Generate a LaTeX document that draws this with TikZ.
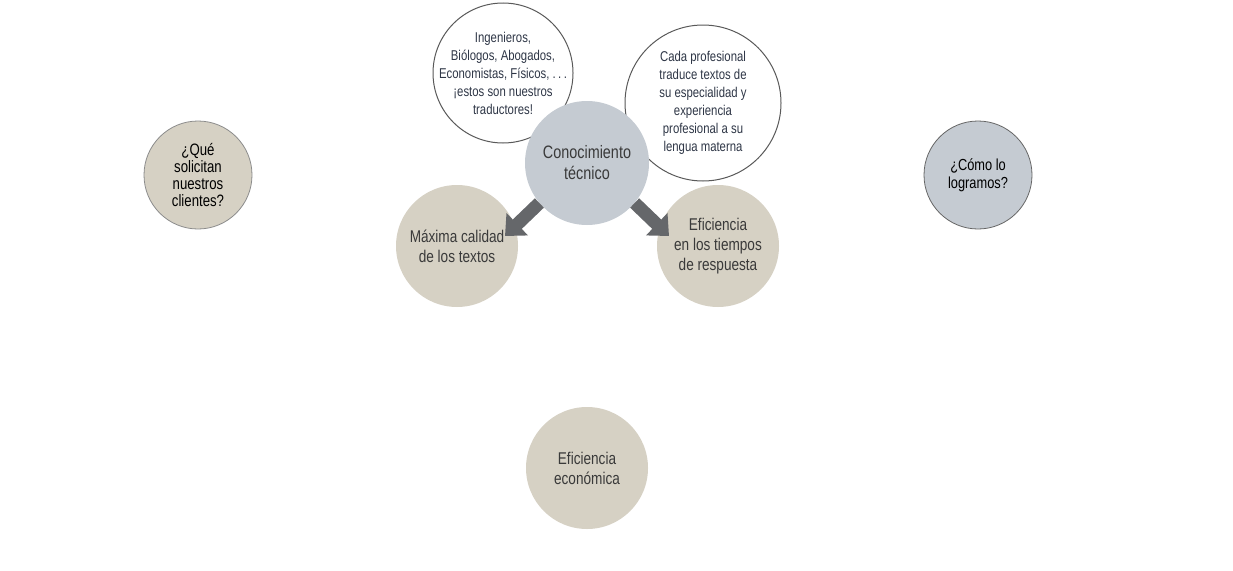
\documentclass[tikz,border=0pt]{standalone}
\usepackage{fontspec}
\setmainfont{Liberation Sans}[FakeStretch=0.8]
\usetikzlibrary{arrows.meta}
\definecolor{beige}{HTML}{D6D1C4}
\definecolor{azulgris}{HTML}{C5CBD2}
\definecolor{flechagris}{HTML}{65676A}
\definecolor{textogris}{HTML}{3A3A3A}
\definecolor{textoazul}{HTML}{2E3646}
\begin{document}
\begin{tikzpicture}[x=1pt,y=1pt,
  circulo/.style={circle,inner sep=0pt,align=center},
  blanco/.style={circulo,inner sep=-20pt,draw=black!65,line width=1pt,fill=white,text=textoazul,font=\fontsize{14.2}{18}\selectfont},
  crema/.style={circulo,fill=beige,text=textogris,font=\fontsize{17}{20}\selectfont},
  flecha/.style={line width=13pt,color=flechagris,-{Triangle[width=30pt,length=17pt]}}]
\useasboundingbox (0,0) rectangle (1233,-570);
\node[blanco,minimum size=140pt] (ingenieros) at (503,-73) {Ingenieros,\\Biólogos, Abogados,\\Economistas, Físicos, .\,.\,.\\¡estos son nuestros\\traductores!};
\node[blanco,minimum size=156pt] (profesional) at (703,-103) {Cada profesional\\traduce textos de\\su especialidad y\\experiencia\\profesional a su\\lengua materna};
\node[circulo,minimum size=124pt,fill=azulgris,text=textogris,font=\fontsize{18}{21}\selectfont] (conoc) at (587,-163) {Conocimiento\\técnico};
\node[crema,minimum size=122pt] (maxima) at (457,-246) {Máxima calidad\\de los textos};
\node[crema,minimum size=122pt] (tiempos) at (718,-246) {Eficiencia\\en los tiempos\\de respuesta};
\node[crema,minimum size=122pt] (economica) at (587,-468) {Eficiencia\\económica};
\node[circulo,minimum size=108pt,fill=beige,draw=black!45,line width=0.8pt,font=\fontsize{16.5}{17}\selectfont] (que) at (198,-175) {¿Qué\\solicitan\\nuestros\\clientes?};
\node[circulo,minimum size=108pt,fill=azulgris,draw=black!60,line width=0.8pt,font=\fontsize{16}{18}\selectfont] (como) at (978,-175) {¿Cómo lo\\logramos?};
\coordinate (puntaL) at (505,-236);
\coordinate (puntaR) at (669,-236);
\draw[flecha] (conoc.220) -- (puntaL);
\draw[flecha] (conoc.320) -- (puntaR);
\end{tikzpicture}
\end{document}
